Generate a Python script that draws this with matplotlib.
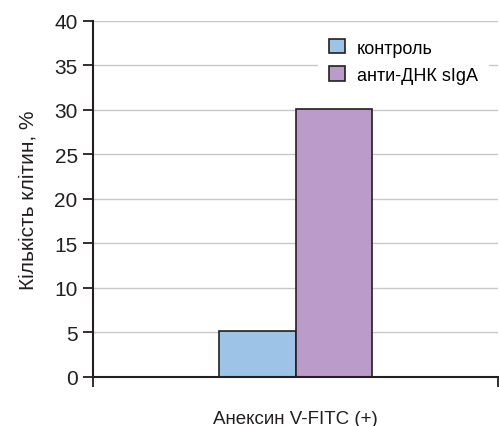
import matplotlib.pyplot as plt
import numpy as np

plt.rcParams['font.family'] = ['Liberation Sans', 'DejaVu Sans']

category = 'Анексин V-FITC (+)'
series_names = ['контроль', 'анти-ДНК sIgA']
values = [5.2, 30.1]
colors = ['#9dc3e6', '#bb9bca']
y_ticks = [0, 5, 10, 15, 20, 25, 30, 35, 40]

fig = plt.figure(figsize=(4.99, 4.27), dpi=100)
ax = fig.add_axes([0.1864, 0.1148, 0.8116, 0.8337])

bar_w = 0.1877
offsets = np.array([-0.5, 0.5]) * bar_w
for off, v, c, name in zip(offsets, values, colors, series_names):
    ax.bar(off, v, width=bar_w, color=c, edgecolor='#231f20', linewidth=1.2,
           label=name, zorder=3)

ax.set_xlim(-0.5, 0.5)
ax.set_ylim(0, 40)
ax.set_yticks(y_ticks)
ax.set_xticks([-0.5, 0.5])
ax.set_xticklabels(['', ''])
ax.yaxis.grid(True, color='#c8c8c8', linewidth=1, zorder=0)
ax.set_axisbelow(True)

for s in ['top', 'right']:
    ax.spines[s].set_visible(False)
for s in ['left', 'bottom']:
    ax.spines[s].set_linewidth(1.5)
    ax.spines[s].set_color('#231f20')
    ax.spines[s].set_zorder(4)

ax.tick_params(axis='y', direction='out', length=7, width=1.3, labelsize=15,
               colors='#231f20', pad=4)
ax.tick_params(axis='x', direction='out', length=7, width=1.3, colors='#231f20')

ax.set_ylabel('Кількість клітин, %', fontsize=15, color='#231f20', labelpad=12)
ax.set_xlabel(category, fontsize=13.5, color='#231f20', labelpad=13)

leg = ax.legend(loc='upper right', bbox_to_anchor=(1.0, 1.005), fontsize=13,
                frameon=True, facecolor='white', edgecolor='none', framealpha=1,
                handlelength=0.85, handleheight=0.85, handletextpad=0.7,
                labelspacing=0.55, borderpad=0.6)
leg.set_zorder(5)

fig.savefig('out.png', dpi=100)
